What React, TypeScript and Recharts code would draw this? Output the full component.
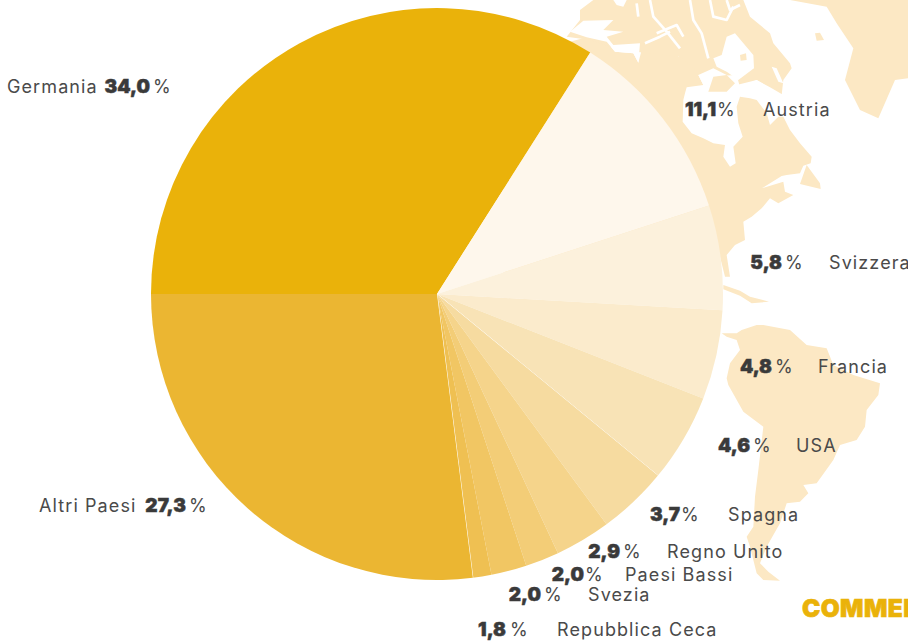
import React from "react";
import { PieChart, Pie, Cell, Sector } from "recharts";

const countries = ["Germania", "Austria", "Svizzera", "Francia", "USA", "Spagna", "Regno Unito", "Paesi Bassi", "Svezia", "Repubblica Ceca", "Altri Paesi"];
// printed percentages
const labelValues = ["34,0", "11,1", "5,8", "4,8", "4,6", "3,7", "2,9", "2,0", "2,0", "1,8", "27,3"];
// slice sizes as drawn in the picture (they differ slightly from the printed figures)
const sliceValues = [34.0, 11.0, 5.9, 5.05, 5.0, 3.95, 3.15, 1.9, 2.0, 1.05, 27.0];
const colors = ["#EAB20A", "#FEF7EC", "#FCF1DC", "#FBEBCC", "#F8E3B6", "#F6DBA0", "#F5D48B", "#F3CD77", "#F1C663", "#EFC052", "#EBB632"];
const whiteEdgeAfter = ["USA", "Repubblica Ceca"];

const chartData = countries.map((name, i) => ({ name, value: sliceValues[i] }));

// label layout: value right edge, % left edge, name left edge, baseline
const labelLayout = [
  [150, 153, 7, 93],
  [716, 717, 763, 116],
  [782, 785, 829, 269],
  [772, 775, 818, 373],
  [750, 753, 796, 452],
  [680, 681, 728, 521],
  [620, 623, 667, 558],
  [584, 585, 625, 581],
  [541, 544, 588, 601],
  [506, 510, 557, 636],
  [186, 189, 39, 512],
];

const LAND = "#FCE8C4";
const INK = "#4A4A4A";
const FONT = "Inter, 'Noto Sans', sans-serif";
const zoom3 = 1 / 3;

const northAmerica =
  "M-200 400 L-100 120 L0 125 L50 112 L110 125 L135 155 L190 160 L205 188 L215 150 L260 125 L300 135 L325 170 L345 150 L385 165 L415 180 L435 205 L420 240 L385 225 L400 255 L350 262 L345 280 L340 300 L338 365 L365 400 L400 415 L430 430 L465 435 L460 470 L480 500 L497 490 L490 440 L518 410 L505 370 L500 320 L510 290 L540 295 L560 300 L590 340 L600 375 L625 350 L640 350 L660 390 L690 430 L725 470 L722 490 L700 497 L690 520 L650 525 L635 528 L575 565 L640 545 L645 575 L670 585 L625 610 L600 595 L575 625 L545 650 L520 665 L525 720 L495 735 L470 765 L480 830 L465 830 L450 770 L430 850 L-200 850 Z";
const arctic =
  "M-10 110 L30 60 L30 30 L70 0 L520 0 L540 50 L600 100 L610 130 L660 190 L665 205 L640 240 L635 285 L600 265 L560 240 L510 262 L500 225 L400 230 L330 170 L150 150 L60 120 Z";
const water = [
  "M470 110 L495 100 L550 165 L552 205 L505 240 L470 215 L440 200 L430 175 L455 165 Z",
  "M500 255 L560 240 L600 262 L640 285 L640 300 L600 320 L560 295 L510 285 Z",
  "M605 200 L620 205 L640 250 L625 245 Z",
  "M0 95 L40 62 L130 60 L100 90 L160 95 L110 110 L130 135 L210 130 L205 188 L190 160 L135 155 L110 125 L50 112 Z",
  "M385 225 L430 205 L470 225 L510 262 L510 290 L400 255 Z",
  "M130 0 L170 0 L160 20 L140 15 Z",
];
const channels = [
  "M200 10 L205 50",
  "M240 0 L250 50 L290 95 L330 145",
  "M300 95 L270 110 L225 130",
  "M360 0 L370 60 L395 100 L415 175",
  "M420 0 L430 50 L470 60 L490 20",
  "M470 0 L480 30 L510 15",
  "M260 100 L320 75 L340 110",
];
const greenland =
  "M660 0 L770 20 L800 70 L850 145 L825 240 L870 330 L925 355 L975 240 L1014 235 L1014 0 Z";
const islands = [
  "M415 275 L430 230 L470 225 L495 250 L470 275 Z",
  "M510 165 L528 160 L530 180 L512 182 Z",
  "M710 495 L750 550 L752 567 L690 552 Z",
  "M460 855 L510 872 L540 890 L597 905 L545 910 L510 887 L460 868 Z",
];
const bays = ["M735 100 L750 98 L762 120 L740 122 Z"];
const southAmerica =
  "M755 40 L800 40 L815 30 L860 15 L880 15 L960 30 L1010 75 L1070 85 L1090 135 L1150 165 L1230 190 L1225 225 L1190 270 L1185 320 L1160 360 L1110 375 L1090 420 L1040 490 L1000 495 L1015 520 L990 545 L950 550 L930 610 L890 680 L870 730 L895 755 L930 782 L880 780 L860 760 L840 680 L830 650 L850 620 L855 530 L865 450 L880 320 L820 275 L775 195 L770 175 L780 130 L810 90 L800 60 L770 50 Z";

function WorldMap() {
  return (
    <svg width={908} height={642} style={{ position: "absolute", left: 0, top: 0 }}>
      <g transform={`translate(570 0) scale(${zoom3})`}>
        <path d={northAmerica} fill={LAND} />
        <path d={arctic} fill={LAND} />
        {water.map((d) => (
          <path key={d} d={d} fill="#fff" />
        ))}
        {channels.map((d) => (
          <path key={d} d={d} fill="none" stroke="#fff" strokeWidth={8} strokeLinejoin="round" />
        ))}
        <path d={greenland} fill={LAND} />
        {islands.map((d) => (
          <path key={d} d={d} fill={LAND} />
        ))}
        {bays.map((d) => (
          <path key={d} d={d} fill={LAND} />
        ))}
      </g>
      <g transform={`translate(470 320) scale(${zoom3})`}>
        <path d={southAmerica} fill={LAND} />
      </g>
    </svg>
  );
}

function SliceShape(props: any) {
  const { cx, cy, outerRadius, endAngle, name, payload } = props;
  const n = name ?? payload?.name;
  const rad = (endAngle * Math.PI) / 180;
  return (
    <g>
      <Sector {...props} stroke="none" />
      {whiteEdgeAfter.includes(n) && (
        <line
          x1={cx}
          y1={cy}
          x2={cx + outerRadius * Math.cos(rad)}
          y2={cy - outerRadius * Math.sin(rad)}
          stroke="#fff"
          strokeWidth={1}
        />
      )}
    </g>
  );
}

function SliceLabel(props: any) {
  const { index } = props;
  const [valueEnd, pctX, nameX, y] = labelLayout[index];
  return (
    <g fontFamily={FONT}>
      <text x={valueEnd} y={y} textAnchor="end" fontSize={19} fontWeight={900} fill="#3A3A3A" stroke="#3A3A3A" strokeWidth={0.5}>
        {labelValues[index]}
      </text>
      <text x={pctX} y={y} fontSize={18} fill={INK}>
        %
      </text>
      <text x={nameX} y={y} fontSize={18} fill={INK} letterSpacing={1.1}>
        {countries[index]}
      </text>
    </g>
  );
}

export default function App() {
  return (
    <div style={{ position: "absolute", left: 0, top: 0, width: 908, height: 642, overflow: "hidden", background: "#fff" }}>
      <WorldMap />
      <div style={{ position: "absolute", left: 0, top: 0 }}>
        <PieChart width={908} height={642} margin={{ top: 0, right: 0, bottom: 0, left: 0 }}>
          <Pie
            data={chartData}
            dataKey="value"
            nameKey="name"
            cx={437}
            cy={294}
            innerRadius={0}
            outerRadius={286}
            startAngle={180}
            endAngle={-180}
            stroke="none"
            shape={SliceShape}
            label={SliceLabel}
            labelLine={false}
            isAnimationActive={false}
          >
            {chartData.map((d, i) => (
              <Cell key={d.name} fill={colors[i]} />
            ))}
          </Pie>
        </PieChart>
      </div>
      <svg width={908} height={642} style={{ position: "absolute", left: 0, top: 0, pointerEvents: "none" }}>
        <text x={802} y={617} fontFamily={FONT} fontSize={24.5} fontWeight={900} fill="#EAB20A" stroke="#EAB20A" strokeWidth={0.6} letterSpacing={0.4}>
          COMMERCIO
        </text>
      </svg>
    </div>
  );
}
